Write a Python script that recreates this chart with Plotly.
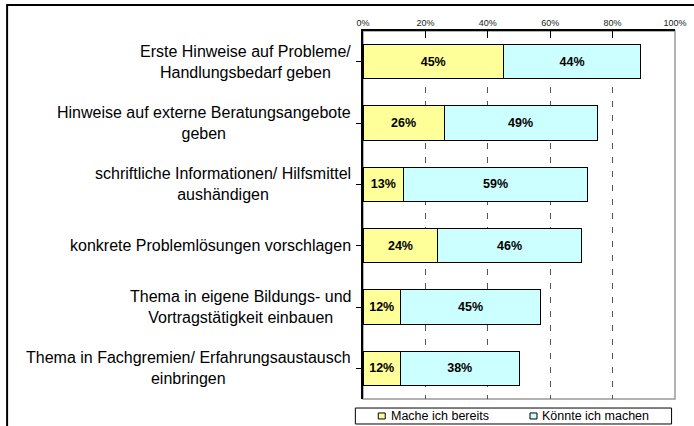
import plotly.graph_objects as go

categories = [
    "Erste Hinweise auf Probleme/<br>Handlungsbedarf geben",
    "Hinweise auf externe Beratungsangebote<br>geben",
    "schriftliche Informationen/ Hilfsmittel<br>aushändigen",
    "konkrete Problemlösungen vorschlagen",
    "Thema in eigene Bildungs- und<br>Vortragstätigkeit einbauen",
    "Thema in Fachgremien/ Erfahrungsaustausch<br>einbringen",
]
mache_bereits = [45, 26, 13, 24, 12, 12]
koennte_machen = [44, 49, 59, 46, 45, 38]
series_names = ["Mache ich bereits", "Könnte ich machen"]
series_colors = ["#FFFF99", "#CCFFFF"]
tick_values = [0, 20, 40, 60, 80, 100]
tick_labels = ["0%", "20%", "40%", "60%", "80%", "100%"]

ids = list(range(len(categories)))
FONT = "Liberation Sans, Arial, sans-serif"

fig = go.Figure()
for name, vals, col in zip(series_names, [mache_bereits, koennte_machen], series_colors):
    fig.add_trace(go.Bar(
        y=ids, x=vals, name=name, orientation="h",
        marker=dict(color=col, line=dict(color="black", width=1)),
        texttemplate="%{x}%", textposition="inside", insidetextanchor="middle",
        textfont=dict(family=FONT, size=12.5, color="black", weight="bold"),
        textangle=0, hoverinfo="skip",
    ))

for i, c in enumerate(categories):
    fig.add_annotation(
        xref="paper", x=0, y=i, yref="y", text=c, showarrow=False,
        xanchor="right", xshift=-10, align="center",
        font=dict(family=FONT, size=16, color="black"),
    )

# plot area border (gray)
fig.add_shape(type="rect", xref="paper", yref="paper", x0=0, x1=1, y0=0, y1=1,
              line=dict(color="#999999", width=1.5), layer="below")
# outer chart border
fig.add_shape(type="rect", xref="paper", yref="paper", x0=-1.1407, x1=2, y0=-1, y1=1.0707,
              line=dict(color="black", width=2))

# legend (drawn as a boxed key below the plot)
fig.add_shape(type="rect", xref="paper", yref="paper", x0=-0.0245, x1=0.989,
              y0=-0.0679, y1=-0.0245, line=dict(color="black", width=1), fillcolor="white")
legend_x = [0.0489, 0.5352]
for lx, name, col in zip(legend_x, series_names, series_colors):
    fig.add_shape(type="rect", xref="paper", yref="paper", x0=lx, x1=lx + 0.0224,
                  y0=-0.0543, y1=-0.038, line=dict(color="black", width=1), fillcolor=col)
    fig.add_annotation(xref="paper", yref="paper", x=lx + 0.033, y=-0.0462, text=name,
                       showarrow=False, xanchor="left", yanchor="middle",
                       font=dict(family=FONT, size=12.5, color="black"))

fig.update_layout(
    width=694, height=426,
    margin=dict(l=363, r=19, t=31, b=27, autoexpand=False),
    barmode="stack", bargap=0.44,
    plot_bgcolor="white", paper_bgcolor="white",
    font=dict(family=FONT, color="black"),
    showlegend=False,
    xaxis=dict(
        side="top", range=[0, 100], tickvals=tick_values, ticktext=tick_labels,
        tickfont=dict(size=9, color="#222"), ticks="inside", ticklen=7, tickcolor="black",
        showline=True, linecolor="black", linewidth=1.5,
        showgrid=True, gridcolor="#555555", griddash="6px,8px", gridwidth=1,
        zeroline=False, fixedrange=True,
    ),
    yaxis=dict(
        tickvals=ids, ticktext=[""] * len(ids),
        range=[len(ids) - 0.5, -0.5],
        showline=True, linecolor="black", linewidth=1.5,
        ticks="outside", ticklen=5, tickcolor="black", tickson="boundaries",
        showgrid=False, zeroline=False, fixedrange=True,
    ),
)

fig.write_html("out.html", config={"displayModeBar": False},
               post_script="document.body.style.margin='0';document.body.style.overflow='hidden';")
